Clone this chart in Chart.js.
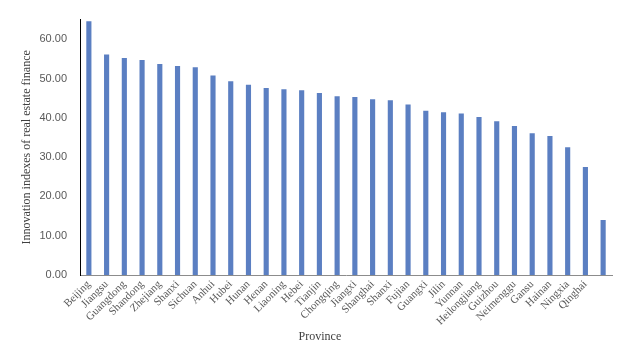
<!DOCTYPE html>
<html>
<head>
  <meta charset="utf-8" />
  <script src="https://cdn.jsdelivr.net/npm/chart.js@4.4.0/dist/chart.umd.min.js"></script>
  <style>
    html,body{margin:0;padding:0;background:#fff;}
    #wrap{width:628px;height:354px;position:relative;}
  </style>
</head>
<body>
<div id="wrap"><canvas id="chart"></canvas></div>

<script>
/* ---------- Data ---------- */
const provinces = ['Beijing','Jiangsu','Guangdong','Shandong','Zhejiang','Shanxi','Sichuan','Anhui','Hubei','Hunan',
  'Henan','Liaoning','Hebei','Tianjin','Chongqing','Jiangxi','Shanghai','Shanxi','Fujian','Guangxi',
  'Jilin','Yunnan','Heilongjiang','Guizhou','Neimenggu','Gansu','Hainan','Ningxia','Qinghai',''];
const indexValues = [64.6,56.1,55.2,54.7,53.7,53.2,52.9,50.8,49.3,48.4,
  47.6,47.3,47.0,46.3,45.5,45.3,44.7,44.5,43.4,41.8,
  41.4,41.1,40.2,39.1,37.9,36.1,35.4,32.5,27.5,14.0];
const yTicks = { min: 0, max: 65, step: 10 };
const xTitle = 'Province';

/* ---------- Chart ---------- */
const serif = "'Liberation Serif','Times New Roman',serif";
const sans = "'Liberation Sans',Arial,sans-serif";

// x title sits a little left of the plot centre in the original
const xTitlePlugin = {
  id: 'xTitle',
  afterDraw(chart){
    const {ctx, chartArea} = chart;
    ctx.save();
    ctx.font = `12px ${serif}`;
    ctx.fillStyle = '#404040';
    ctx.textAlign = 'center';
    ctx.textBaseline = 'middle';
    ctx.fillText(xTitle, chartArea.left + (chartArea.right - chartArea.left) * 0.451, 337);
    ctx.restore();
  }
};

new Chart(document.getElementById('chart'), {
  type: 'bar',
  data: {
    labels: provinces,
    datasets: [{
      data: indexValues,
      backgroundColor: '#5b7fc2',
      barPercentage: 0.29,
      categoryPercentage: 1
    }]
  },
  options: {
    responsive: true,
    maintainAspectRatio: false,
    animation: false,
    layout: { padding: { left: 20, right: 16, top: 5, bottom: 10 } },
    plugins: { legend: { display: false }, tooltip: { enabled: false } },
    scales: {
      x: {
        grid: { display: false, drawTicks: false },
        border: { color: '#8c8c8c', width: 1 },
        ticks: {
          autoSkip: false, minRotation: 45, maxRotation: 45, padding: 3,
          color: '#595959', font: { family: serif, size: 11 }
        },
        afterFit: s => { s.height = 354 - 275 - 10; }
      },
      y: {
        min: yTicks.min, max: yTicks.max,
        grid: { display: false, drawTicks: false },
        border: { color: '#000', width: 1 },
        ticks: {
          stepSize: yTicks.step, includeBounds: false, padding: 13,
          color: '#595959', font: { family: sans, size: 11 },
          callback: v => v.toFixed(2)
        },
        title: {
          display: true, text: 'Innovation indexes of real estate finance', color: '#404040',
          font: { family: serif, size: 12 }, padding: 0
        },
        afterFit: s => { s.width = 80 - 20; }
      }
    }
  },
  plugins: [xTitlePlugin]
});
</script>
</body>
</html>
